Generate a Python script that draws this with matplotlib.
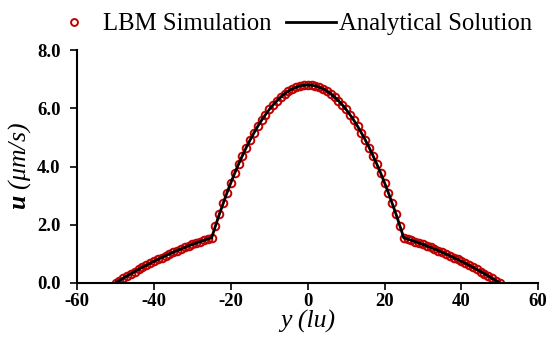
import matplotlib
matplotlib.use("Agg")
import matplotlib.pyplot as plt

# velocity profile, y from -50 to 50 lu
y = list(range(-50, 51))
u_lbm = [
    0.000, 0.082, 0.162, 0.241, 0.317, 0.393, 0.466, 0.538, 0.608, 0.677,
    0.744, 0.809, 0.873, 0.935, 0.995, 1.054, 1.111, 1.166, 1.220, 1.272,
    1.323, 1.371, 1.419, 1.464, 1.508,
    1.55, 1.96, 2.36, 2.73, 3.10, 3.44, 3.77, 4.08, 4.37, 4.65,
    4.91, 5.15, 5.38, 5.59, 5.78, 5.96, 6.12, 6.26, 6.39, 6.50,
    6.59, 6.67, 6.72, 6.77, 6.79,
    6.80,
    6.79, 6.77, 6.72, 6.67, 6.59, 6.50, 6.39, 6.26, 6.12, 5.96,
    5.78, 5.59, 5.38, 5.15, 4.91, 4.65, 4.37, 4.08, 3.77, 3.44,
    3.10, 2.73, 2.36, 1.96, 1.55,
    1.508, 1.464, 1.419, 1.371, 1.323, 1.272, 1.220, 1.166, 1.111, 1.054,
    0.995, 0.935, 0.873, 0.809, 0.744, 0.677, 0.608, 0.538, 0.466, 0.393,
    0.317, 0.241, 0.162, 0.082, 0.000,
]
u_analytical = u_lbm

xticks = [-60, -40, -20, 0, 20, 40, 60]
yticks = [0.0, 2.0, 4.0, 6.0, 8.0]

plt.rcParams["font.family"] = "Liberation Serif"
plt.rcParams["axes.unicode_minus"] = False
plt.rcParams["mathtext.fontset"] = "custom"
plt.rcParams["mathtext.bf"] = "Liberation Serif:bold:italic"
plt.rcParams["mathtext.it"] = "Liberation Serif:italic"

fig = plt.figure(figsize=(5.47, 3.43), dpi=100)
ax = fig.add_axes([0.141, 0.175, 0.843, 0.679])

ax.plot(y, u_lbm, "o", mfc="none", mec="#c00000", mew=1.4, ms=5.5,
        label="LBM Simulation", zorder=2)
ax.plot(y, u_analytical, "-", color="black", lw=2, label="Analytical Solution", zorder=3)

ax.set_xlim(-60, 60)
ax.set_ylim(0, 8)
ax.set_xticks(xticks)
ax.set_yticks(yticks)
ax.set_yticklabels([f"{v:.1f}" for v in yticks])
for lab in ax.get_xticklabels() + ax.get_yticklabels():
    lab.set_fontweight("bold")
    lab.set_fontsize(13.5)
ax.tick_params(direction="out", length=5, width=1.2, pad=2)
ax.tick_params(axis="y", pad=7)
ax.spines["top"].set_visible(False)
ax.spines["right"].set_visible(False)
ax.spines["left"].set_linewidth(1.5)
ax.spines["bottom"].set_linewidth(1.5)

ax.set_xlabel("y (lu)", fontsize=18.5, fontstyle="italic", labelpad=0)
ax.set_ylabel(r"$\mathbf{u}$ (μm/s)", fontsize=18.5, fontstyle="italic", labelpad=3)

fig.legend(loc="upper center", bbox_to_anchor=(0.532, 1.027), ncol=2, frameon=False,
           fontsize=17.8, handlelength=2.0, handletextpad=0.15, columnspacing=0.6,
           markerscale=0.9)

fig.savefig("out.png", dpi=100)
